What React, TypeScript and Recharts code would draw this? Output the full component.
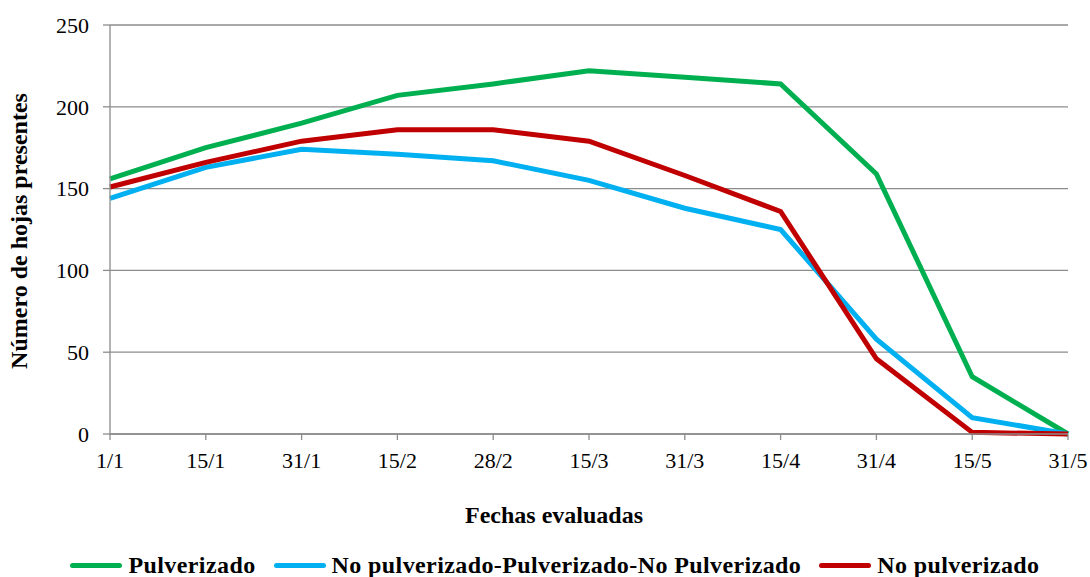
import { LineChart, Line, XAxis, YAxis, CartesianGrid, Legend, Label } from 'recharts';

const fechas = ['1/1', '15/1', '31/1', '15/2', '28/2', '15/3', '31/3', '15/4', '31/4', '15/5', '31/5'];
const pulverizado = [156, 175, 190, 207, 214, 222, 218, 214, 159, 35, 0];
const mixto = [144, 163, 174, 171, 167, 155, 138, 125, 58, 10, 0];
const noPulverizado = [151, 166, 179, 186, 186, 179, 158, 136, 46, 1, 0];
const yTicks = [0, 50, 100, 150, 200, 250];

const data = fechas.map((fecha, i) => ({
  fecha,
  pulverizado: pulverizado[i],
  mixto: mixto[i],
  noPulverizado: noPulverizado[i],
}));

const FONT = 'Liberation Serif, Times New Roman, serif';
const GRID = '#8c8c8c';

const series = [
  { key: 'pulverizado', name: 'Pulverizado', color: '#00b050' },
  { key: 'mixto', name: 'No pulverizado-Pulverizado-No Pulverizado', color: '#00b0f0' },
  { key: 'noPulverizado', name: 'No pulverizado', color: '#c00000' },
];

function LegendBox() {
  return (
    <div
      style={{
        display: 'flex',
        justifyContent: 'center',
        gap: 18,
        paddingLeft: 42,
        paddingTop: 3,
        fontFamily: FONT,
        fontWeight: 'bold',
        fontSize: 24,
        letterSpacing: 0.4,
        lineHeight: '30px',
        color: '#000',
      }}
    >
      {series.map((s) => (
        <div key={s.key} style={{ display: 'flex', alignItems: 'center' }}>
          <span style={{ display: 'inline-block', width: 52, height: 5, borderRadius: 3, background: s.color, marginRight: 6 }} />
          <span>{s.name}</span>
        </div>
      ))}
    </div>
  );
}

export default function App() {
  return (
    <div style={{ position: 'absolute', left: 0, top: 0, background: '#fff' }}>
      <LineChart width={1090} height={577} data={data} margin={{ top: 25, right: 22, left: 0, bottom: 0 }}>
        <CartesianGrid vertical={false} stroke={GRID} strokeWidth={1.3} />
        <XAxis
          dataKey="fecha"
          interval={0}
          height={113}
          tickSize={6}
          tickMargin={12}
          stroke={GRID}
          strokeWidth={1.3}
          tick={{ fill: '#000', fontSize: 22, fontFamily: FONT }}
        >
          <Label
            content={() => (
              <text x={554} y={523} textAnchor="middle" fontFamily={FONT} fontWeight="bold" fontSize={24} fill="#000">
                Fechas evaluadas
              </text>
            )}
          />
        </XAxis>
        <YAxis
          width={110}
          domain={[0, 250]}
          ticks={yTicks}
          tickSize={7}
          tickMargin={14}
          stroke={GRID}
          strokeWidth={1.3}
          tick={{ fill: '#000', fontSize: 22, fontFamily: FONT }}
        >
          <Label
            content={() => (
              <text
                x={27}
                y={231}
                transform="rotate(-90 27 231)"
                textAnchor="middle"
                fontFamily={FONT}
                fontWeight="bold"
                fontSize={24}
                fill="#000"
              >
                Número de hojas presentes
              </text>
            )}
          />
        </YAxis>
        <Legend verticalAlign="bottom" height={30} content={() => <LegendBox />} />
        {series.map((s) => (
          <Line
            key={s.key}
            type="linear"
            dataKey={s.key}
            name={s.name}
            stroke={s.color}
            strokeWidth={5}
            dot={false}
            activeDot={false}
            isAnimationActive={false}
          />
        ))}
      </LineChart>
    </div>
  );
}
